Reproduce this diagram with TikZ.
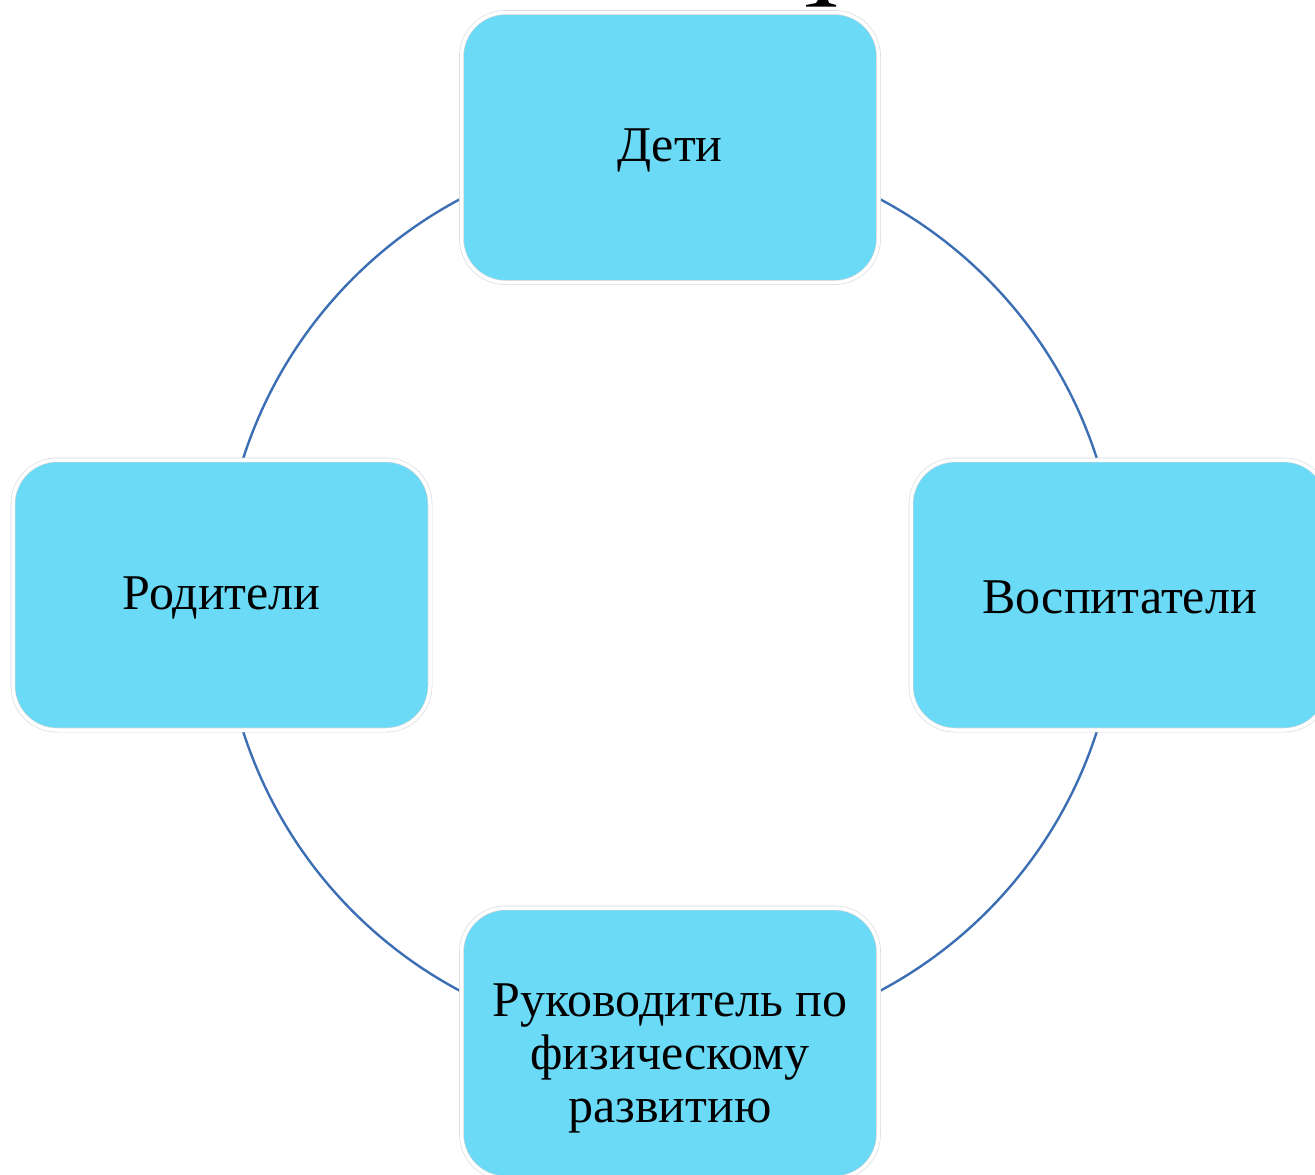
\documentclass[tikz,border=0pt]{standalone}
\usepackage{fontspec}
\setmainfont{Liberation Serif}
\definecolor{boxfill}{RGB}{107,218,247}
\definecolor{ringblue}{RGB}{60,110,180}
\definecolor{edgegray}{RGB}{215,215,215}
\begin{document}
\begin{tikzpicture}[x=1pt,y=-1pt,
  card/.style={rounded corners=44pt, fill=boxfill, draw=edgegray, double=white,
    double distance=3.5pt, line width=0.6pt, minimum width=417pt, minimum height=270pt,
    inner sep=0pt},
  label/.style={font=\fontsize{50}{53}\selectfont, align=center, inner sep=0pt},
  ring/.style={draw=ringblue, line width=2.4pt}]
\useasboundingbox (0,0) rectangle (1315,1175);
\coordinate (centre) at (670,595);
\draw[ring] (centre) circle[radius=448];
\node[card] (deti) at (670,147.5) {};
\node[card] (roditeli) at (221.5,595) {};
\node[card] (vosp) at (1119.5,595) {};
\node[card] (ruk) at (670,1043) {};
\node[label] (detitext) at (670,150) {Дети};
\node[label] (roditelitext) at (221.5,597.5) {Родители};
\node[label] (vosptext) at (1119.5,597.5) {Воспитатели};
\node[label] (ruktext) at (670,1058)
  {Руководитель по\\физическому\\развитию};
\fill[black] (818,0) -- (828,0) -- (829,3) -- (836,5) -- (836,6.5) -- (806,6.5) -- (806,5) -- (816,3) -- cycle;
\end{tikzpicture}
\end{document}
